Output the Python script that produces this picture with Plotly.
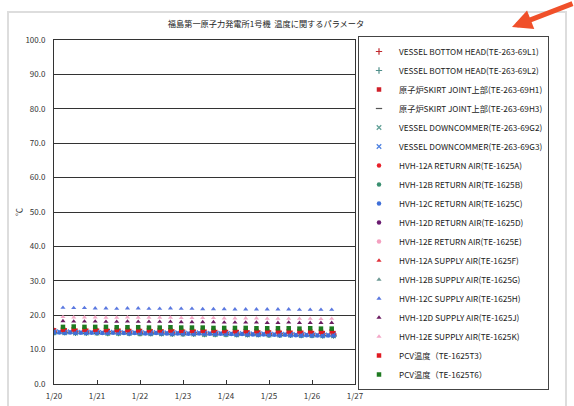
import pandas as pd
import plotly.graph_objects as go

# ---------------- data ----------------
title_text = "福島第一原子力発電所1号機  温度に関するパラメータ"
y_title = "℃"

sparse_start = "2012-01-20 05:00"   # 6-hourly readings
band_start = "2012-01-20 00:00"      # 6-hourly readings
dense_start = "2012-01-20 00:00"     # 3-hourly readings

names = [
    "VESSEL BOTTOM HEAD(TE-263-69L1)",
    "VESSEL BOTTOM HEAD(TE-263-69L2)",
    "原子炉SKIRT JOINT上部(TE-263-69H1)",
    "原子炉SKIRT JOINT上部(TE-263-69H3)",
    "VESSEL DOWNCOMMER(TE-263-69G2)",
    "VESSEL DOWNCOMMER(TE-263-69G3)",
    "HVH-12A RETURN AIR(TE-1625A)",
    "HVH-12B RETURN AIR(TE-1625B)",
    "HVH-12C RETURN AIR(TE-1625C)",
    "HVH-12D RETURN AIR(TE-1625D)",
    "HVH-12E RETURN AIR(TE-1625E)",
    "HVH-12A SUPPLY AIR(TE-1625F)",
    "HVH-12B SUPPLY AIR(TE-1625G)",
    "HVH-12C SUPPLY AIR(TE-1625H)",
    "HVH-12D SUPPLY AIR(TE-1625J)",
    "HVH-12E SUPPLY AIR(TE-1625K)",
    "PCV温度（TE-1625T3）",
    "PCV温度（TE-1625T6）",
]

# 6-hourly band series (27 readings from 1/20 00:00)
te_69L1 = [15.4, 15.4, 15.3, 15.3, 15.3, 15.2, 15.2, 15.2, 15.1, 15.1, 15.1, 15.0, 15.0, 15.0,
           14.9, 14.9, 14.9, 14.8, 14.8, 14.8, 14.7, 14.7, 14.7, 14.6, 14.6, 14.6, 14.5]
te_69L2 = [15.0, 15.0, 14.9, 14.9, 14.9, 14.8, 14.8, 14.8, 14.7, 14.7, 14.7, 14.6, 14.6, 14.6,
           14.5, 14.5, 14.5, 14.4, 14.4, 14.4, 14.3, 14.3, 14.3, 14.2, 14.2, 14.1, 14.1]
te_69H1 = [15.6, 15.6, 15.5, 15.5, 15.5, 15.4, 15.5, 15.4, 15.4, 15.3, 15.3, 15.3, 15.2, 15.2,
           15.2, 15.1, 15.1, 15.1, 15.0, 15.0, 15.0, 14.9, 14.9, 14.9, 14.8, 14.8, 14.8]
te_69H3 = [14.8, 14.8, 14.7, 14.7, 14.7, 14.6, 14.6, 14.6, 14.5, 14.5, 14.5, 14.4, 14.4, 14.4,
           14.3, 14.3, 14.3, 14.2, 14.2, 14.2, 14.1, 14.1, 14.1, 14.0, 14.0, 14.0, 13.9]
te_69G2 = [14.9, 14.9, 14.8, 14.8, 14.8, 14.7, 14.7, 14.7, 14.6, 14.6, 14.6, 14.5, 14.5, 14.5,
           14.4, 14.4, 14.4, 14.3, 14.3, 14.3, 14.2, 14.2, 14.2, 14.1, 14.1, 14.0, 14.0]
te_1625A = [15.3, 15.3, 15.2, 15.2, 15.2, 15.1, 15.1, 15.1, 15.0, 15.0, 15.0, 14.9, 14.9, 14.9,
            14.8, 14.8, 14.8, 14.7, 14.7, 14.7, 14.6, 14.6, 14.6, 14.5, 14.5, 14.5, 14.4]
te_1625B = [14.9, 14.9, 14.8, 14.8, 14.8, 14.7, 14.7, 14.7, 14.6, 14.6, 14.6, 14.5, 14.5, 14.5,
            14.4, 14.4, 14.4, 14.3, 14.3, 14.3, 14.2, 14.2, 14.2, 14.1, 14.1, 14.1, 14.0]
te_1625D = [15.1, 15.1, 15.0, 15.0, 15.0, 14.9, 14.9, 14.9, 14.8, 14.8, 14.8, 14.7, 14.7, 14.7,
            14.6, 14.6, 14.6, 14.5, 14.5, 14.5, 14.4, 14.4, 14.4, 14.3, 14.3, 14.3, 14.2]
te_1625E = [15.2, 15.2, 15.1, 15.1, 15.1, 15.0, 15.0, 15.0, 14.9, 14.9, 14.9, 14.8, 14.8, 14.8,
            14.7, 14.7, 14.7, 14.6, 14.6, 14.6, 14.5, 14.5, 14.5, 14.4, 14.4, 14.4, 14.3]
te_1625F = [15.5, 15.5, 15.4, 15.4, 15.4, 15.3, 15.3, 15.3, 15.2, 15.2, 15.2, 15.1, 15.1, 15.1,
            15.0, 15.0, 15.0, 14.9, 14.9, 14.9, 14.8, 14.8, 14.8, 14.7, 14.7, 14.7, 14.6]
te_1625G = [14.8, 14.8, 14.7, 14.7, 14.7, 14.6, 14.6, 14.6, 14.5, 14.5, 14.5, 14.4, 14.4, 14.4,
            14.3, 14.3, 14.3, 14.2, 14.2, 14.2, 14.1, 14.1, 14.1, 14.0, 14.0, 14.0, 13.9]

# 3-hourly band series (53 readings from 1/20 00:00)
te_69G3 = [15.2, 15.2, 15.1, 15.2, 15.1, 15.1, 15.0, 15.1, 15.1, 15.0, 15.0, 15.1, 15.0, 15.0,
           14.9, 15.0, 15.0, 14.9, 14.9, 15.0, 14.9, 14.9, 14.8, 14.9, 14.9, 14.8, 14.8, 14.9,
           14.8, 14.8, 14.7, 14.8, 14.7, 14.7, 14.6, 14.7, 14.6, 14.6, 14.5, 14.6, 14.5, 14.5,
           14.4, 14.5, 14.4, 14.4, 14.3, 14.4, 14.3, 14.3, 14.2, 14.3, 14.3]
te_1625C = [15.0, 15.0, 14.9, 15.0, 14.9, 14.9, 14.8, 14.9, 14.9, 14.8, 14.8, 14.9, 14.8, 14.8,
            14.7, 14.8, 14.8, 14.7, 14.7, 14.8, 14.7, 14.7, 14.6, 14.7, 14.7, 14.6, 14.6, 14.7,
            14.6, 14.6, 14.5, 14.6, 14.5, 14.5, 14.4, 14.5, 14.4, 14.4, 14.3, 14.4, 14.3, 14.3,
            14.2, 14.3, 14.2, 14.2, 14.1, 14.2, 14.1, 14.1, 14.0, 14.1, 14.1]

# 6-hourly sparse series (26 readings from 1/20 05:00)
te_1625H = [22.2, 22.1, 22.1, 22.0, 22.0, 21.9, 22.0, 22.0, 21.9, 21.9, 22.0, 21.9, 21.9,
            21.8, 21.8, 21.8, 21.7, 21.7, 21.7, 21.7, 21.7, 21.7, 21.6, 21.6, 21.6, 21.6]
te_1625J = [18.3, 18.2, 18.2, 18.2, 18.1, 18.1, 18.2, 18.1, 18.1, 18.1, 18.1, 18.0, 18.0,
            18.0, 18.0, 17.9, 17.9, 17.9, 17.9, 17.8, 17.8, 17.9, 17.8, 17.8, 17.8, 17.8]
te_1625K = [19.5, 19.4, 19.4, 19.4, 19.3, 19.3, 19.4, 19.3, 19.3, 19.3, 19.3, 19.2, 19.2,
            19.2, 19.2, 19.1, 19.1, 19.1, 19.1, 19.0, 19.0, 19.0, 19.0, 19.0, 18.9, 19.0]
te_1625T3 = [15.8, 15.9, 15.8, 15.8, 15.7, 15.7, 15.7, 15.6, 15.6, 15.6, 15.6, 15.5, 15.5,
             15.5, 15.5, 15.4, 15.4, 15.4, 15.4, 15.3, 15.3, 15.3, 15.3, 15.3, 15.2, 15.3]
te_1625T6 = [16.6, 16.7, 16.6, 16.6, 16.6, 16.5, 16.5, 16.5, 16.4, 16.4, 16.5, 16.4, 16.4,
             16.4, 16.3, 16.3, 16.3, 16.3, 16.2, 16.2, 16.2, 16.2, 16.1, 16.2, 16.1, 16.1]

y_ticks = [0, 10, 20, 30, 40, 50, 60, 70, 80, 90, 100]
x_range = ["2012-01-20", "2012-01-27"]

# ---------------- styles ----------------
series = [
    (te_69L1, band_start, "6h", "cross-thin", "#C0282D"),
    (te_69L2, band_start, "6h", "cross-thin", "#4F8F8A"),
    (te_69H1, band_start, "6h", "square", "#D0202A"),
    (te_69H3, band_start, "6h", "line-ew", "#555555"),
    (te_69G2, band_start, "6h", "x-thin", "#5F9F95"),
    (te_69G3, dense_start, "3h", "x-thin", "#4A7FE0"),
    (te_1625A, band_start, "6h", "circle", "#E8202A"),
    (te_1625B, band_start, "6h", "circle", "#3A8F70"),
    (te_1625C, dense_start, "3h", "circle", "#3F6FD8"),
    (te_1625D, band_start, "6h", "circle", "#6A1B70"),
    (te_1625E, band_start, "6h", "circle", "#F4A0C0"),
    (te_1625F, band_start, "6h", "triangle-up", "#E0303A"),
    (te_1625G, band_start, "6h", "triangle-up", "#6E9A95"),
    (te_1625H, sparse_start, "6h", "triangle-up", "#5A78E0"),
    (te_1625J, sparse_start, "6h", "triangle-up", "#6A1B60"),
    (te_1625K, sparse_start, "6h", "triangle-up", "#F4A8C8"),
    (te_1625T3, sparse_start, "6h", "square", "#E01A22"),
    (te_1625T6, sparse_start, "6h", "square", "#1E7A20"),
]
draw_order = [0, 1, 3, 4, 6, 7, 9, 10, 11, 12, 2, 5, 8, 13, 14, 15, 16, 17]

fig = go.Figure()
for idx in draw_order:
    vals, start, freq, sym, col = series[idx]
    times = pd.date_range(start=start, periods=len(vals), freq=freq)
    thin = sym in ("cross-thin", "x-thin", "line-ew")
    marker = dict(symbol=sym, size=4.5, color=col,
                  line=dict(width=1.2 if thin else 0, color=col))
    fig.add_trace(go.Scatter(
        x=times, y=vals, mode="markers", name=names[idx],
        marker=marker, legendrank=idx + 1,
    ))

W, H = 574, 406
L, R, T, B = 54, 219, 28, 16
pw, ph = W - L - R, H - T - B
AX_TOP, AX_BOT = 40, 384   # pixel rows of the y axis ends

def px_x(px):
    return (px - L) / pw

def px_y(py):
    return (H - B - py) / ph

fig.update_layout(
    width=W, height=H,
    margin=dict(l=L, r=R, t=T, b=B, autoexpand=False),
    paper_bgcolor="white", plot_bgcolor="white",
    font=dict(family="Noto Sans CJK JP, Noto Sans, sans-serif", color="#222"),
    title=dict(text=title_text, x=266 / W, xanchor="center", y=1 - 24 / H, yanchor="middle",
               font=dict(size=8.2, color="#222")),
    showlegend=True,
    legend=dict(
        x=px_x(358), xanchor="left", y=px_y(36), yanchor="top",
        bgcolor="white", bordercolor="#444", borderwidth=1,
        font=dict(size=8.2, color="#222"), itemwidth=30,
        tracegroupgap=0,
    ),
    xaxis=dict(
        type="date", range=x_range, dtick=86400000, tickformat="%-m/%d",
        ticks="inside", ticklen=4, tickcolor="#333",
        showline=True, linecolor="#333", linewidth=1, mirror=True,
        showgrid=False, zeroline=False, ticklabelstandoff=4,
        tickfont=dict(size=8, color="#333"),
    ),
    yaxis=dict(
        domain=[px_y(AX_BOT), px_y(AX_TOP)],
        range=[0, 100], tickvals=y_ticks, tickformat=".1f",
        ticks="inside", ticklen=4, tickcolor="#333",
        showline=True, linecolor="#333", linewidth=1, mirror=True,
        showgrid=True, gridcolor="#333", gridwidth=1, zeroline=False,
        ticklabelstandoff=6,
        tickfont=dict(size=8, color="#333"),
        title=dict(text=y_title, standoff=1, font=dict(size=8, color="#333")),
    ),
    shapes=[
        dict(type="rect", xref="paper", yref="paper",
             x0=px_x(8), x1=px_x(566), y0=px_y(414), y1=px_y(12),
             line=dict(color="#DDDDDD", width=2), layer="below"),
    ],
    annotations=[
        dict(xref="paper", yref="paper", x=px_x(512), y=px_y(27), text="",
             showarrow=True, arrowhead=2, arrowsize=0.8, arrowwidth=5,
             arrowcolor="#F0502A", ax=66, ay=-24),
    ],
)

fig.write_html("out.html")
